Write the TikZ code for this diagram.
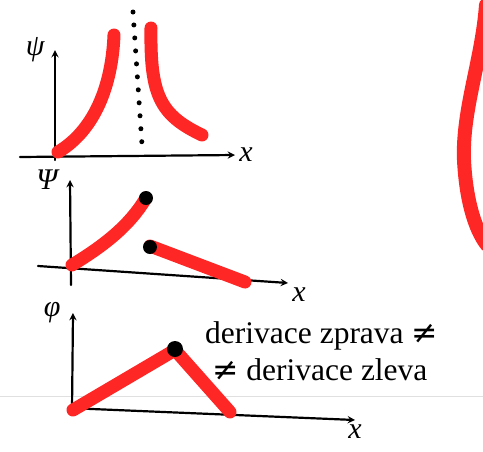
\documentclass[tikz,border=0pt]{standalone}
\usepackage{fontspec}
\setmainfont{Liberation Serif}
\newfontfamily\znak{DejaVu Sans}
\tikzset{
  osa/.style={line width=2.2pt,-stealth},
  fce/.style={line width=13pt,red!85!white,line cap=round},
  tecka/.style={circle,fill=black,inner sep=0pt,minimum size=14pt},
  popis/.style={font=\fontsize{30}{32}\selectfont\itshape},
  poznamka/.style={font=\fontsize{31.5}{34}\selectfont}
}
\begin{document}
\begin{tikzpicture}[line join=round,line cap=round,x=1pt,y=-1pt,>=stealth]
	\useasboundingbox (0,0) rectangle (483,451);
	\draw[black!12,line width=0.6pt](0,396)--(483,396);
	% prvni graf
	\draw[osa](20,157)--(235,155)node[right,popis]{x};
	\draw[osa](55,160)--(55,50)node[left=6pt,popis]{ψ};
	\draw[line width=5pt,dash pattern=on 0pt off 13pt](133,12)--(142,145);
	\draw[fce](58,152) .. controls (95,130) and (112,85) .. (114,35);
	\draw[fce](151,28) .. controls (150,95) and (160,115) .. (202,135);
	% druhy graf
	\draw[osa](38,266)--(288,283)node[below right,popis]{x};
	\draw[osa](71,285)--(70,180)node[left=8pt,popis]{Ψ};
	\draw[fce](72,265) .. controls (105,245) and (130,225) .. (146,198);
	\draw[fce](150,246)--(245,282);
	\node[tecka](maxL) at (146,198){};
	\node[tecka](maxP) at (150,247){};
	% treti graf
	\draw[osa](68,408)--(355,420)node[below,popis]{x};
	\draw[osa](72,410)--(73,313)node[left=8pt,popis]{φ};
	\draw[fce](73,410)--(175,350)--(230,412);
	\node[tecka,minimum size=16pt](zlom) at (175,349){};
	\node[poznamka,anchor=west,inner sep=0pt](t1) at (205,336){derivace zprava {\znak ≠}};
	\node[poznamka,anchor=west,inner sep=0pt](t2) at (212,370){{\znak ≠} derivace zleva};
	% okraj
	\draw[fce,line width=14pt](486,5) .. controls (482,60) and (462,110) .. (464,160) .. controls (466,200) and (475,230) .. (487,245);
\end{tikzpicture}
\end{document}
